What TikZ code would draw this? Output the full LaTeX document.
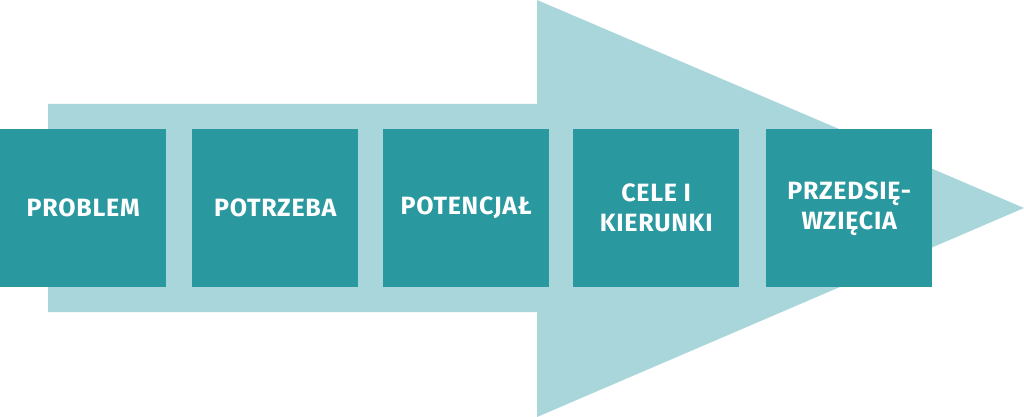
\documentclass[tikz,border=0pt]{standalone}
\usepackage{fontspec}
\setmainfont{Fira Sans}[LetterSpace=3]
\definecolor{lightteal}{HTML}{A8D6DA}
\definecolor{darkteal}{HTML}{2A989F}
\begin{document}
\begin{tikzpicture}[x=1pt,y=-1pt,
  stepbox/.style={fill=darkteal, draw=none, minimum width=166pt, minimum height=158pt,
    inner sep=0pt, anchor=north west, text=white, align=center,
    font=\fontsize{25}{30}\selectfont\bfseries}]
\useasboundingbox (0,0) rectangle (1024,417);
\fill[lightteal] (48,104) -- (537,104) -- (537,0) -- (1024,208) -- (537,417) -- (537,312) -- (48,312) -- cycle;
\node[stepbox] (b1) at (0,129) {PROBLEM};
\node[stepbox] (b2) at (192,129) {POTRZEBA};
\node[stepbox] (b3) at (383,129) {POTENCJAŁ};
\node[stepbox] (b4) at (573,129) {CELE I\\KIERUNKI};
\node[stepbox] (b5) at (766,129) {PRZEDSIĘ-\\WZIĘCIA};
\end{tikzpicture}
\end{document}
